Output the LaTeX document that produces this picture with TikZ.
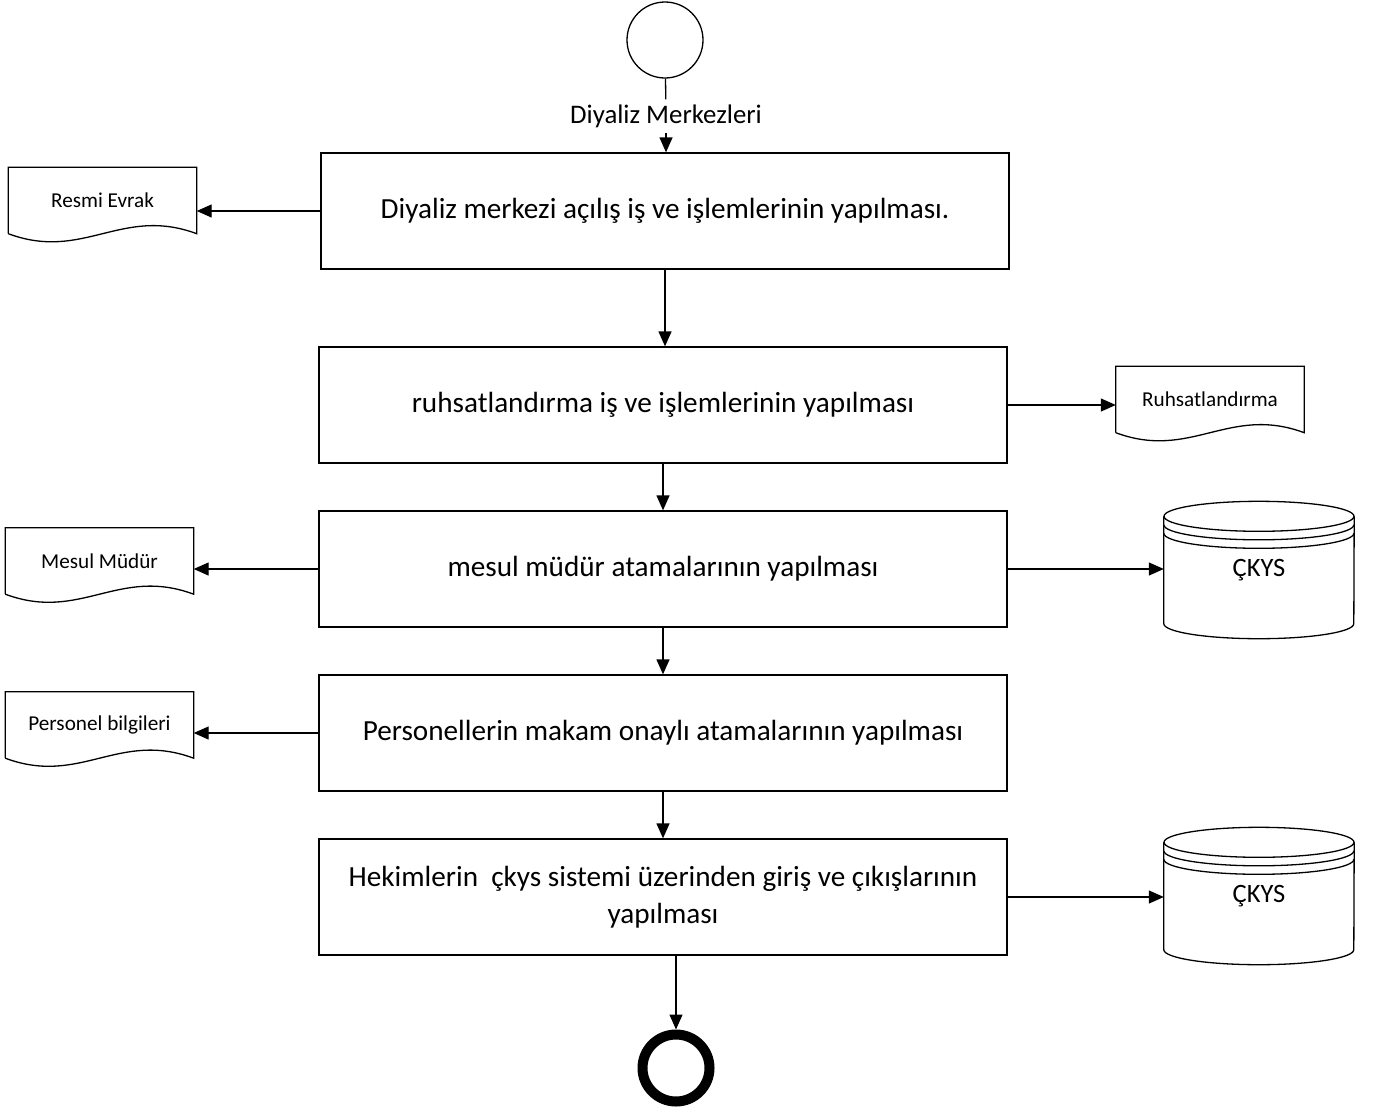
\documentclass[tikz,border=0pt]{standalone}
\usepackage{fontspec}
\setmainfont{Carlito}
\usepackage{tikz}
\usetikzlibrary{shapes,positioning,calc,arrows.meta}

\tikzset{
  islem/.style={draw, line width=1.3pt, minimum width=688pt, minimum height=116pt, inner sep=0pt, align=center, font=\fontsize{29.2}{37}\selectfont},
  evrak/.style={minimum width=188pt, minimum height=66pt, inner sep=0pt, font=\fontsize{21.2}{25}\selectfont},
  veri/.style={minimum width=190pt, minimum height=107pt, inner sep=0pt, font=\fontsize{26.5}{30}\selectfont},
  akis/.style={line width=1.3pt, -{Triangle[length=15pt,width=13pt]}},
  cizgi/.style={line width=1.3pt},
}

% belge sekli
\newcommand{\belge}[4]{%
  \node[evrak] (#1) at (#2,#3) {#4};
  \draw[cizgi] (#1.south west) -- (#1.north west) -- (#1.north east) -- (#1.south east)
    .. controls ($(#1.south)+(19,-28)$) and ($(#1.south)+(-19,28)$) .. (#1.south west);
}
% veri tabani sekli
\newcommand{\veritabani}[3]{%
  \node[veri] (#1) at (#2,#3) {ÇKYS};
  \draw[cizgi] (#1.north) ellipse [x radius=95, y radius=15];
  \draw[cizgi] ($(#1.north west)+(0,8.5)$) arc [start angle=180, end angle=0, x radius=95, y radius=15];
  \draw[cizgi] ($(#1.north west)+(0,17)$) arc [start angle=180, end angle=0, x radius=95, y radius=15];
  \draw[cizgi] (#1.north west) -- (#1.south west) arc [start angle=180, end angle=0, x radius=95, y radius=15] -- (#1.north east);
}

\begin{document}
\begin{tikzpicture}[x=1pt, y=-1pt]
  \useasboundingbox (0,0) rectangle (1379,1114);

  % baslangic
  \node[circle, draw, cizgi, minimum size=76pt, inner sep=0pt] (basla) at (665,40) {};
  \node[font=\fontsize{26.8}{30}\selectfont, inner xsep=2pt, inner ysep=5pt] (merkez) at (666,116) {Diyaliz Merkezleri};

  % islemler
  \node[islem] (acilis) at (665,211) {Diyaliz merkezi açılış iş ve işlemlerinin yapılması.};
  \node[islem] (ruhsat) at (663,405) {ruhsatlandırma iş ve işlemlerinin yapılması};
  \node[islem] (mesul) at (663,569) {mesul müdür atamalarının yapılması};
  \node[islem] (personel) at (663,733) {Personellerin makam onaylı atamalarının yapılması};
  \node[islem] (hekim) at (663,897) {Hekimlerin\ \ çkys sistemi üzerinden giriş ve çıkışlarının\\yapılması};

  % bitis
  \node[circle, draw, line width=10pt, minimum size=67pt, inner sep=0pt] (bitis) at (676,1068) {};

  % belgeler ve veri tabanlari
  \belge{resmi}{102.5}{200.5}{Resmi Evrak}
  \belge{ruhsatbelge}{1210}{399.5}{Ruhsatlandırma}
  \belge{mesulbelge}{99.5}{561}{Mesul Müdür}
  \belge{personelbelge}{99.5}{725}{Personel bilgileri}
  \veritabani{ckys1}{1259}{570}
  \veritabani{ckys2}{1259}{896}

  % akis
  \draw[cizgi] (basla) -- (merkez);
  \draw[akis] (merkez) -- (merkez |- acilis.north);
  \draw[akis] (acilis.south) -- (acilis.south |- ruhsat.north);
  \draw[akis] (ruhsat) -- (mesul);
  \draw[akis] (mesul) -- (personel);
  \draw[akis] (personel) -- (hekim);
  \draw[akis] (hekim.south -| bitis) -- (bitis);

  \draw[akis] (acilis.west) -- (acilis.west -| resmi.east);
  \draw[akis] (ruhsat.east) -- (ruhsat.east -| ruhsatbelge.west);
  \draw[akis] (mesul.west) -- (mesul.west -| mesulbelge.east);
  \draw[akis] (mesul.east) -- (mesul.east -| ckys1.west);
  \draw[akis] (personel.west) -- (personel.west -| personelbelge.east);
  \draw[akis] (hekim.east) -- (hekim.east -| ckys2.west);
\end{tikzpicture}
\end{document}
